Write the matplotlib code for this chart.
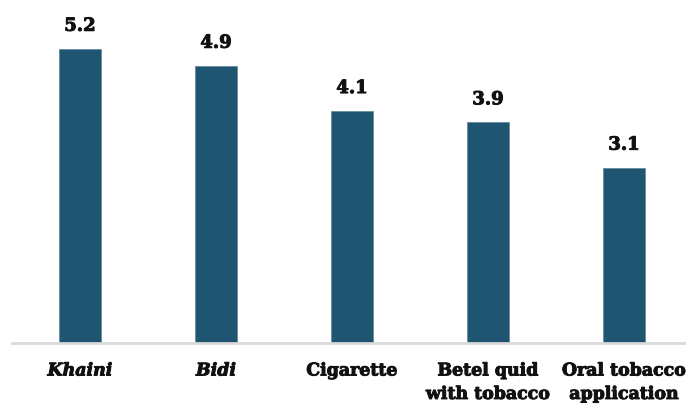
import matplotlib.pyplot as plt
import matplotlib.patheffects as pe

# tobacco product shares
categories = ['Khaini', 'Bidi', 'Cigarette', 'Betel quid\nwith tobacco', 'Oral tobacco\napplication']
values = [5.2, 4.9, 4.1, 3.9, 3.1]
italic = [True, True, False, False, False]

bar_color = '#1f5570'
text_color = '#111111'
thicken = [pe.withStroke(linewidth=0.7, foreground=text_color)]

fig = plt.figure(figsize=(6.86, 4.07), dpi=100)
ax = fig.add_axes([12 / 686, 64 / 407, 680 / 686, 343 / 407])

x = range(len(categories))
bars = ax.bar(x, values, width=0.31, color=bar_color, edgecolor='#4f7d96', linewidth=0.4, zorder=2)

for rect, v in zip(bars, values):
    ax.annotate(f'{v:.1f}', (rect.get_x() + rect.get_width() / 2, v),
                xytext=(0, 10), textcoords='offset points', ha='center', va='bottom',
                fontsize=13, fontweight='bold', family='DejaVu Serif', color=text_color,
                path_effects=thicken)

ax.set_xlim(-0.5, 4.5)
ax.set_ylim(0, 6.06)
ax.set_yticks([])
ax.set_xticks(list(x))
ax.set_xticklabels(categories)
for lbl, it in zip(ax.get_xticklabels(), italic):
    lbl.set_fontfamily('DejaVu Serif')
    lbl.set_fontweight('bold')
    lbl.set_fontsize(12.5)
    lbl.set_color(text_color)
    lbl.set_linespacing(1.5)
    lbl.set_path_effects(thicken)
    if it:
        lbl.set_fontstyle('italic')
ax.tick_params(axis='x', length=0, pad=14)

for s in ['top', 'right', 'left']:
    ax.spines[s].set_visible(False)
ax.spines['bottom'].set_color('#d9d9d9')
ax.spines['bottom'].set_linewidth(2)
ax.spines['bottom'].set_zorder(3)

fig.savefig('out.png', dpi=100)
